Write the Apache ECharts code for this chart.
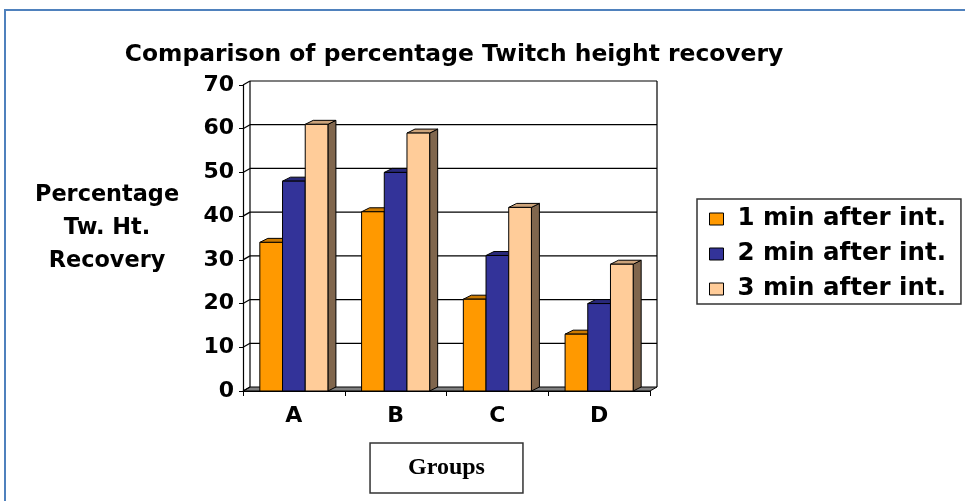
<!DOCTYPE html>
<html>
<head>
<meta charset="utf-8">
<script src="https://cdn.jsdelivr.net/npm/echarts@6/dist/echarts.min.js"></script>
<style>
  html, body { margin: 0; padding: 0; background: #fff; }
  #chart { width: 965px; height: 501px; }
</style>
</head>
<body>
<div id="chart"></div>
<script>
// data
var groups = ['A', 'B', 'C', 'D'];
var oneMin = [34, 41, 21, 13];
var twoMin = [48, 50, 31, 20];
var threeMin = [61, 59, 42, 29];
var seriesNames = ['1 min after int.', '2 min after int.', '3 min after int.'];
var yTicks = [0, 10, 20, 30, 40, 50, 60, 70];

var chart = echarts.init(document.getElementById('chart'));

var FONT = 'DejaVu Sans';
var colors = ['#FF9900', '#333399', '#FFCC99'];
// depth of the fake 3d look
var wallDx = 7, wallDy = -4;
var barDx = 8, barDy = -4;

function shade(hex, k) {
    var n = parseInt(hex.slice(1), 16);
    var r = Math.round(((n >> 16) & 255) * k);
    var g = Math.round(((n >> 8) & 255) * k);
    var b = Math.round((n & 255) * k);
    return 'rgb(' + r + ',' + g + ',' + b + ')';
}

// back wall, left wall and floor
function renderWall(params, api) {
    var cs = params.coordSys;
    var x = cs.x, w = cs.width;
    var y0 = api.coord([0, 0])[1];
    var yTop = api.coord([0, yTicks[yTicks.length - 1]])[1];
    var kids = [];
    var line = { stroke: '#000', lineWidth: 1.2 };
    kids.push({
        type: 'polygon',
        shape: { points: [[x, y0], [x + w, y0], [x + w + wallDx, y0 + wallDy], [x + wallDx, y0 + wallDy]] },
        style: { fill: '#808080', stroke: '#000', lineWidth: 1 }
    });
    for (var i = 0; i < yTicks.length; i++) {
        var yv = api.coord([0, yTicks[i]])[1];
        if (i > 0) {
            kids.push({ type: 'line', shape: { x1: x + wallDx, y1: yv + wallDy, x2: x + w + wallDx, y2: yv + wallDy }, style: line });
        }
        kids.push({ type: 'line', shape: { x1: x, y1: yv, x2: x + wallDx, y2: yv + wallDy }, style: line });
    }
    kids.push({ type: 'line', shape: { x1: x + wallDx, y1: y0 + wallDy, x2: x + wallDx, y2: yTop + wallDy }, style: line });
    kids.push({ type: 'line', shape: { x1: x + w + wallDx, y1: y0 + wallDy, x2: x + w + wallDx, y2: yTop + wallDy }, style: line });
    return { type: 'group', children: kids, silent: true };
}

function makeBarRender(idx) {
    return function (params, api) {
        var c = api.value(0);
        var top = api.coord([c, api.value(1)]);
        var base = api.coord([c, 0]);
        var band = api.size([1, 0])[0];
        var bw = band * 0.223;
        var x0 = top[0] + (idx - 1) * bw - bw / 2;
        var x1 = x0 + bw;
        var yt = top[1], yb = base[1];
        var col = colors[idx];
        var edge = { stroke: '#000', lineWidth: 1 };
        return {
            type: 'group',
            children: [
                { type: 'polygon', shape: { points: [[x1, yt], [x1 + barDx, yt + barDy], [x1 + barDx, yb + barDy], [x1, yb]] },
                  style: Object.assign({ fill: shade(col, 0.5) }, edge) },
                { type: 'polygon', shape: { points: [[x0, yt], [x1, yt], [x1 + barDx, yt + barDy], [x0 + barDx, yt + barDy]] },
                  style: Object.assign({ fill: shade(col, 0.8) }, edge) },
                { type: 'rect', shape: { x: x0, y: yt, width: bw, height: yb - yt },
                  style: Object.assign({ fill: col }, edge) }
            ]
        };
    };
}

function toData(vals) {
    return vals.map(function (v, i) { return [i, v]; });
}

var allVals = [oneMin, twoMin, threeMin];
var series = [{
    name: 'wall',
    type: 'custom',
    silent: true,
    renderItem: renderWall,
    data: [[0, 0]],
    encode: { x: 0, y: 1 }
}];
for (var s = 0; s < 3; s++) {
    series.push({
        name: seriesNames[s],
        type: 'custom',
        renderItem: makeBarRender(s),
        itemStyle: { color: colors[s] },
        encode: { x: 0, y: 1 },
        data: toData(allVals[s])
    });
}

var option = {
    backgroundColor: '#fff',
    animation: false,
    title: {
        text: 'Comparison of percentage Twitch height recovery',
        left: 449,
        textAlign: 'center',
        top: 38,
        textStyle: { fontFamily: FONT, fontWeight: 'bold', fontSize: 23.4, color: '#000' }
    },
    legend: {
        data: seriesNames,
        orient: 'vertical',
        left: 697,
        top: 199,
        padding: [7, 15, 2, 12],
        itemGap: 9,
        itemWidth: 14,
        itemHeight: 12,
        icon: 'rect',
        borderColor: '#333',
        borderWidth: 1.5,
        itemStyle: { borderColor: '#000', borderWidth: 1 },
        textStyle: { fontFamily: FONT, fontWeight: 'bold', fontSize: 24.5, lineHeight: 26, color: '#000', padding: [0, 0, 0, 9] }
    },
    grid: { left: 243, right: 315, top: 85, bottom: 110 },
    xAxis: {
        type: 'category',
        data: groups,
        axisLine: { lineStyle: { color: '#000', width: 1.2 } },
        axisTick: { show: true, length: 5, lineStyle: { color: '#000' } },
        axisLabel: { fontFamily: FONT, fontWeight: 'bold', fontSize: 22, color: '#000', margin: 14 },
        name: 'Groups',
        nameLocation: 'middle',
        nameGap: 52,
        nameTextStyle: {
            fontFamily: 'Liberation Serif', fontWeight: 'bold', fontSize: 24, color: '#000',
            borderColor: '#333', borderWidth: 1.5, padding: [13, 38, 13, 38]
        }
    },
    yAxis: {
        type: 'value',
        min: 0,
        max: 70,
        interval: 10,
        axisLine: { show: true, lineStyle: { color: '#000', width: 1.2 } },
        axisTick: { show: true, length: 4, lineStyle: { color: '#000' } },
        splitLine: { show: false },
        axisLabel: { fontFamily: FONT, fontWeight: 'bold', fontSize: 22, color: '#000', margin: 9 }
    },
    graphic: [
        {
            type: 'polyline',
            shape: { points: [[5, 501], [5, 10], [965, 10]] },
            style: { stroke: '#4F81BD', lineWidth: 2, fill: null }
        },
        {
            type: 'text',
            left: 35,
            top: 179,
            style: {
                text: 'Percentage\nTw. Ht.\nRecovery',
                textAlign: 'center',
                fontFamily: FONT, fontWeight: 'bold', fontSize: 22.4, lineHeight: 33, fill: '#000'
            }
        }
    ],
    series: series
};

chart.setOption(option);

window.addEventListener('resize', function () {
    chart.resize();
});
</script>
</body>
</html>
